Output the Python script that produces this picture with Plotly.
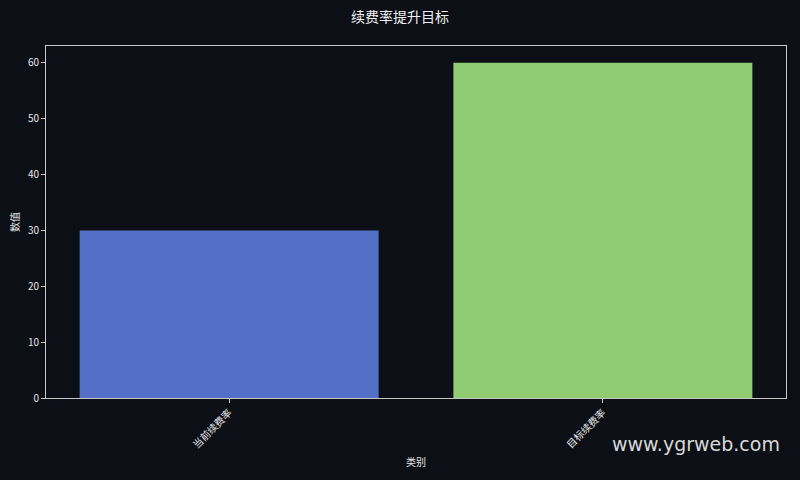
import plotly.graph_objects as go

categories = ["当前续费率", "目标续费率"]
values = [30, 60]
colors = ["#5470c6", "#91cc75"]
y_ticks = [0, 10, 20, 30, 40, 50, 60]

BG = "#0c0f16"
FONT = "Noto Sans CJK SC, DejaVu Sans, sans-serif"

positions = list(range(len(categories)))

fig = go.Figure(go.Bar(
    x=positions, y=values, marker=dict(color=colors, line=dict(width=0)),
    width=0.8,
))

fig.update_layout(
    width=800, height=480,
    paper_bgcolor=BG, plot_bgcolor=BG,
    margin=dict(l=46, r=14, t=46, b=82, autoexpand=False),
    font=dict(family=FONT, color="#e6e6e6", size=10),
    title=dict(text="续费率提升目标", x=0.5, xanchor="center", y=0.965, yanchor="middle",
               font=dict(size=14, color="#f0f0f0")),
    showlegend=False,
)
fig.update_xaxes(
    type="linear", automargin=False,
    range=[-0.49, 1.49], tickmode="array", tickvals=positions, ticktext=categories,
    showline=True, linecolor="#c8c8c8", linewidth=1, mirror=True,
    ticks="outside", ticklen=4, tickcolor="#c8c8c8", tickangle=-45,
    showgrid=False, zeroline=False,
    title=dict(text="类别", font=dict(size=10), standoff=8),
)
fig.update_yaxes(
    automargin=False,
    range=[0, 63], tickvals=y_ticks, showline=True, linecolor="#c8c8c8", linewidth=1, mirror=True,
    ticks="outside", ticklen=4, tickcolor="#c8c8c8",
    showgrid=False, zeroline=False,
    title=dict(text="数值", font=dict(size=10), standoff=6),
)
fig.add_annotation(
    text="www.ygrweb.com", xref="paper", yref="paper", x=0.995, y=-0.13,
    xanchor="right", yanchor="middle", showarrow=False,
    font=dict(size=19, color="#d8d8d8", family="DejaVu Sans, sans-serif"),
)
fig.write_html(
    "out.html",
    config={"displayModeBar": False},
    post_script="document.body.style.margin='0';document.body.style.background='%s';" % BG,
)
